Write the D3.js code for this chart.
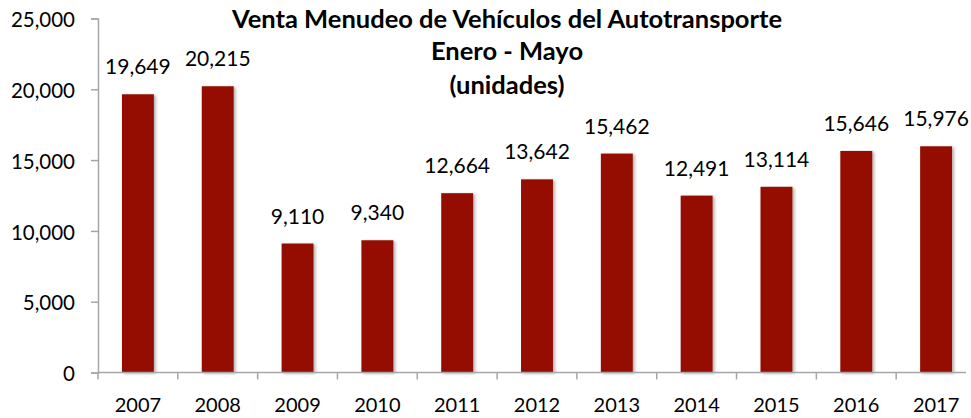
<!DOCTYPE html>
<html>
<head>
<meta charset="utf-8">
<script src="https://cdn.jsdelivr.net/npm/d3@7"></script>
<style>
  body { margin: 0; background: #fff; }
  text { font-family: Lato, "Open Sans", sans-serif; fill: #000; }
</style>
</head>
<body>
<div id="chart"></div>
<script>
// datos
const years = ['2007', '2008', '2009', '2010', '2011', '2012', '2013', '2014', '2015', '2016', '2017'];
const units = [19649, 20215, 9110, 9340, 12664, 13642, 15462, 12491, 13114, 15646, 15976];
const yTicks = [0, 5000, 10000, 15000, 20000, 25000];
const titleLines = ['Venta Menudeo de Vehículos del Autotransporte', 'Enero - Mayo', '(unidades)'];

const width = 971, height = 418;
const margin = {left: 98, top: 18.5, right: 0, bottom: 45.5};
const plotH = height - margin.top - margin.bottom;

const data = years.map((y, i) => ({year: y, value: units[i]}));

const x = d3.scaleBand()
    .domain(years)
    .range([0, 878])
    .paddingInner(0.6)
    .paddingOuter(0.3);
const y = d3.scaleLinear()
    .domain([0, 25000])
    .range([plotH, 0]);

const fmt = d3.format(',');

const svg = d3.select('#chart').append('svg')
    .attr('width', width).attr('height', height);

const defs = svg.append('defs');
defs.append('filter').attr('id', 'sombra')
    .attr('x', '-20%').attr('y', '-20%').attr('width', '150%').attr('height', '150%')
    .append('feDropShadow')
    .attr('dx', 2).attr('dy', 1).attr('stdDeviation', 1.5)
    .attr('flood-color', '#000').attr('flood-opacity', 0.3);

const g = svg.append('g').attr('transform', 'translate(' + margin.left + ',' + margin.top + ')');

// eje y
const yAxis = g.append('g')
    .attr('class', 'y-axis')
    .call(d3.axisLeft(y).tickValues(yTicks).tickFormat(fmt).tickSize(7).tickSizeOuter(7).tickPadding(16));
yAxis.select('.domain').attr('stroke', '#a6a6a6').attr('stroke-width', 1.5);
yAxis.selectAll('.tick line').attr('stroke', '#a6a6a6').attr('stroke-width', 1.5);
yAxis.selectAll('.tick text').style('font-size', '20.5px').attr('dy', '0.4em');

// barras
g.selectAll('rect.bar')
    .data(data)
    .enter().append('rect')
    .attr('class', 'bar')
    .attr('x', (d) => x(d.year))
    .attr('y', (d) => y(d.value))
    .attr('width', x.bandwidth())
    .attr('height', (d) => plotH - y(d.value))
    .attr('fill', '#941100')
    .attr('filter', 'url(#sombra)');

// eje x
const step = x.step();
const xAxis = g.append('g')
    .attr('class', 'x-axis')
    .attr('transform', 'translate(0,' + plotH + ')');
xAxis.append('line')
    .attr('x1', 0).attr('x2', 868)
    .attr('stroke', '#a6a6a6').attr('stroke-width', 1.5);
xAxis.selectAll('line.tk')
    .data(years)
    .enter().append('line')
    .attr('class', 'tk')
    .attr('x1', (d) => x(d) - step * 0.3).attr('x2', (d) => x(d) - step * 0.3)
    .attr('y1', 0).attr('y2', 7)
    .attr('stroke', '#a6a6a6').attr('stroke-width', 1.5);
xAxis.selectAll('text')
    .data(years)
    .enter().append('text')
    .attr('x', (d) => x(d) + x.bandwidth() / 2)
    .attr('y', 39)
    .attr('text-anchor', 'middle')
    .style('font-size', '20px')
    .text((d) => d);

// etiquetas de valores
g.selectAll('text.val')
    .data(data)
    .enter().append('text')
    .attr('class', 'val')
    .attr('x', (d) => x(d.year) + x.bandwidth() / 2)
    .attr('y', (d) => y(d.value) - 20)
    .attr('text-anchor', 'middle')
    .style('font-size', '21px')
    .text((d) => fmt(d.value));

// titulo
svg.append('g').selectAll('text')
    .data(titleLines)
    .enter().append('text')
    .attr('x', 507)
    .attr('y', (d, i) => [28, 60, 94][i])
    .attr('text-anchor', 'middle')
    .style('font-size', '25.5px')
    .style('font-weight', 'bold')
    .text((d) => d);
</script>
</body>
</html>
